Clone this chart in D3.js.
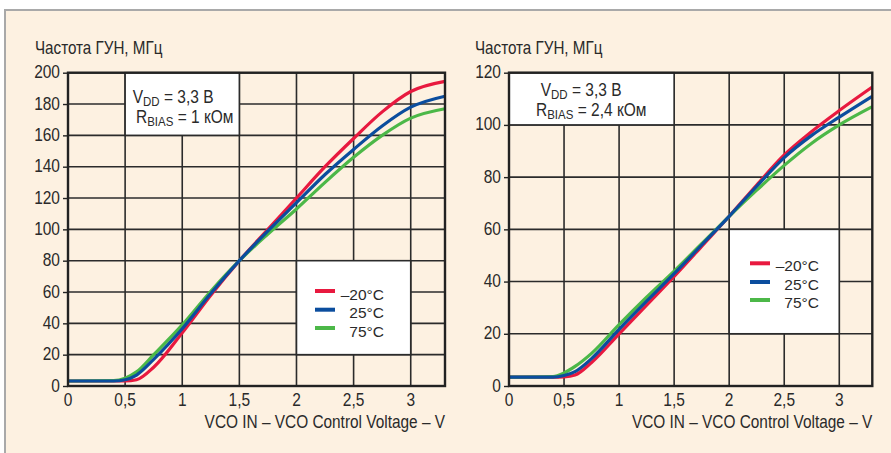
<!DOCTYPE html>
<html><head><meta charset="utf-8">
<script src="https://cdn.jsdelivr.net/npm/d3@7"></script>
<style>
html,body{margin:0;padding:0;background:#fff;}
text{font-family:"Liberation Sans",Arial,sans-serif;fill:#2a2a2a;}
</style></head>
<body><svg id="c" width="891" height="453"></svg>
<script>
// ---- data ----
const voltages = [0, 0.4, 0.5, 0.6, 0.75, 1, 1.25, 1.5, 1.75, 2, 2.25, 2.5, 2.75, 3, 3.3];
// R_BIAS = 1 kOhm
const left_m20 = [3.2, 3.2, 3.2, 4, 12, 34, 58, 80, 100, 120, 140, 158, 175, 188, 194.5];
const left_25  = [3.2, 3.2, 4, 7, 17, 36.5, 59, 80, 99, 117, 135, 151, 166, 178, 185];
const left_75  = [3.2, 3.4, 5, 9, 20, 39, 60.5, 80, 97, 113, 130, 146, 160, 171, 177];
// R_BIAS = 2.4 kOhm
const right_m20 = [3.4, 3.4, 3.5, 4.2, 9, 20, 31, 42, 53.5, 65, 77, 88.5, 97.5, 105.5, 114.5];
const right_25  = [3.4, 3.4, 4, 5.5, 10.5, 21.7, 32.5, 43, 54, 65, 76.5, 87.5, 96, 103, 111];
const right_75  = [3.4, 3.6, 5, 7.5, 12.5, 23.5, 34, 44, 54.5, 65, 75, 84.5, 93, 100, 107];

const xTicks = [0, 0.5, 1, 1.5, 2, 2.5, 3];
const xTickLabels = ["0", "0,5", "1", "1,5", "2", "2,5", "3"];
const leftYTicks = [0, 20, 40, 60, 80, 100, 120, 140, 160, 180, 200];
const rightYTicks = [0, 20, 40, 60, 80, 100, 120];
const seriesNames = ["\u201320\u00B0C", "25\u00B0C", "75\u00B0C"];
const seriesColors = ["#e8193f", "#0b4d9e", "#4cb848"];
const yTitle = "Частота ГУН, МГц";
const xTitle = "VCO IN \u2013 VCO Control Voltage \u2013 V";

const svg = d3.select("#c");
// background frame
svg.append("rect").attr("x", 5).attr("y", 10).attr("width", 886).attr("height", 443).attr("fill", "#fdf1e1");
svg.append("path").attr("d", "M5,453 V10 H891").attr("fill", "none").attr("stroke", "#a9a9a9").attr("stroke-width", 2);

const SY = 1.17;
function txt(g, x, y, s, anchor, size, sy) {
  return g.append("text").attr("transform", `translate(${x},${y}) scale(1,${sy || SY})`)
    .attr("text-anchor", anchor).style("font-size", size + "px").text(s);
}

function drawChart(cfg) {
  const g = svg.append("g");
  const x = d3.scaleLinear().domain([0, 3.3]).range([cfg.x0, cfg.x1]);
  const y = d3.scaleLinear().domain([0, cfg.yMax]).range([386, 72.7]);

  // grid
  g.append("g").selectAll("line").data(xTicks.slice(1)).join("line")
    .attr("x1", d => x(d)).attr("x2", d => x(d)).attr("y1", y(0)).attr("y2", y(cfg.yMax))
    .attr("stroke", "#2b2b2b").attr("stroke-width", 1.6);
  g.append("g").selectAll("line").data(cfg.yTicks.slice(1)).join("line")
    .attr("x1", x(0)).attr("x2", x(3.3)).attr("y1", d => y(d)).attr("y2", d => y(d))
    .attr("stroke", "#2b2b2b").attr("stroke-width", 1.6);

  // boxes (annotation, legend) covering the grid
  [cfg.annBox, cfg.legBox].forEach(b => {
    g.append("rect").attr("x", x(b[0])).attr("y", y(b[3]))
      .attr("width", x(b[1]) - x(b[0])).attr("height", y(b[2]) - y(b[3]))
      .attr("fill", "#fff").attr("stroke", "#2b2b2b").attr("stroke-width", 1.6);
  });

  // curves
  const line = d3.line().x((d, i) => x(voltages[i])).y(d => y(d)).curve(d3.curveMonotoneX);
  const order = [0, 2, 1];
  order.forEach(k => {
    g.append("path").datum(cfg.series[k]).attr("d", line)
      .attr("fill", "none").attr("stroke", seriesColors[k]).attr("stroke-width", 3.2)
      .attr("stroke-linecap", "butt");
  });

  // plot frame
  g.append("rect").attr("x", x(0)).attr("y", y(cfg.yMax)).attr("width", x(3.3) - x(0)).attr("height", y(0) - y(cfg.yMax))
    .attr("fill", "none").attr("stroke", "#222").attr("stroke-width", 2.4);

  // y axis ticks & labels
  const yAxis = d3.axisLeft(y).tickValues(cfg.yTicks).tickSize(5).tickFormat("");
  const ya = g.append("g").attr("transform", `translate(${x(0)},0)`).call(yAxis);
  ya.select(".domain").remove();
  ya.selectAll("line").attr("stroke", "#222").attr("stroke-width", 1.4);
  cfg.yTicks.forEach(t => txt(g, x(0) - 8, y(t) + 5.5, String(t), "end", 15.5));

  // x labels
  xTicks.forEach((t, i) => txt(g, x(t), 405.5, xTickLabels[i], "middle", 15.5));
  txt(g, x(3.3), 428, xTitle, "end", 15.4);
  txt(g, cfg.titleX, 53.5, yTitle, "start", 15.2);

  // annotation
  const a1 = g.append("text").attr("transform", `translate(${cfg.ann[0]},${cfg.ann[1]}) scale(1,${SY})`).style("font-size", "15.5px");
  a1.append("tspan").text("V");
  a1.append("tspan").attr("dy", 2.5).style("font-size", "11.5px").text("DD");
  a1.append("tspan").attr("dy", -2.5).text(" = 3,3 В");
  const a2 = g.append("text").attr("transform", `translate(${cfg.ann[2]},${cfg.ann[3]}) scale(1,${SY})`).style("font-size", "15.5px");
  a2.append("tspan").text("R");
  a2.append("tspan").attr("dy", 2.5).style("font-size", "11.5px").text("BIAS");
  a2.append("tspan").attr("dy", -2.5).text(" = " + cfg.rText);

  // legend
  seriesNames.forEach((n, i) => {
    g.append("line").attr("x1", cfg.leg.lx).attr("x2", cfg.leg.lx + 20)
      .attr("y1", cfg.leg.ly[i]).attr("y2", cfg.leg.ly[i])
      .attr("stroke", seriesColors[i]).attr("stroke-width", 4);
    txt(g, cfg.leg.tx, cfg.leg.ty[i], n, "end", 15.5, 1.0);
  });
}

drawChart({
  x0: 68, x1: 445, yMax: 200, yTicks: leftYTicks, titleX: 35,
  series: [left_m20, left_25, left_75],
  annBox: [0.5, 1.5, 160, 200], legBox: [2, 3, 20, 80],
  ann: [132.7, 102.7, 136, 123.3], rText: "1 кОм",
  leg: {lx: 315, ly: [291, 309.7, 328], tx: 384, ty: [299.5, 318, 336.5]}
});
drawChart({
  x0: 509, x1: 872.3, yMax: 120, yTicks: rightYTicks, titleX: 475,
  series: [right_m20, right_25, right_75],
  annBox: [0, 1.5, 100, 120], legBox: [2, 3, 20, 60],
  ann: [540.7, 96, 536, 116], rText: "2,4 кОм",
  leg: {lx: 750, ly: [263.3, 282, 300], tx: 819, ty: [271, 289.5, 308]}
});
</script></body></html>
